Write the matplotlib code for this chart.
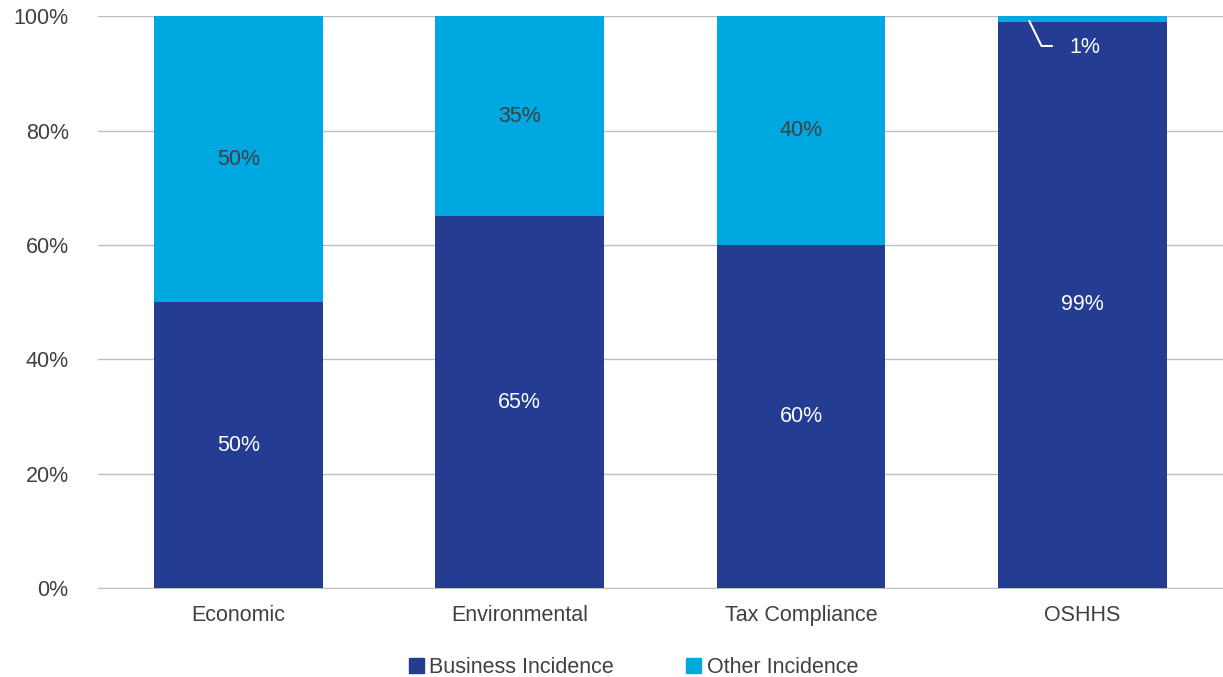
import numpy as np
import matplotlib.pyplot as plt
from matplotlib.patches import Patch

plt.rcParams['font.family'] = ['Liberation Sans', 'DejaVu Sans']

categories = ["Economic", "Environmental", "Tax Compliance", "OSHHS"]
business = [50, 65, 60, 99]
other = [50, 35, 40, 1]
yticks = [0, 20, 40, 60, 80, 100]

dark = "#253C93"
light = "#00A8E1"
txt = "#404040"
fs = 15.5

fig = plt.figure(figsize=(12.23, 6.77), dpi=100)
ax = fig.add_axes([0.0800, 0.1315, 0.9200, 0.8445])

x = np.arange(len(categories))
w = 0.6
ax.bar(x, business, w, color=dark, zorder=3)
ax.bar(x, other, w, bottom=business, color=light, zorder=3)

for i in range(len(categories)):
    ax.text(x[i], business[i] / 2, f"{business[i]}%", ha="center", va="center",
            color="white", fontsize=fs, zorder=4)
    if other[i] >= 5:
        ax.text(x[i], business[i] + other[i] / 2, f"{other[i]}%", ha="center",
                va="center", color=txt, fontsize=fs, zorder=4)
    else:
        # small segment: label sits inside the dark bar with a leader line
        top = business[i] + other[i] / 2
        ax.plot([x[i] - 0.19, x[i] - 0.145, x[i] - 0.105], [top - 0.2, top - 4.7, top - 4.7],
                color="white", lw=1.5, zorder=4, solid_capstyle="butt")
        ax.text(x[i] + 0.01, top - 4.9, f"{other[i]}%", ha="center", va="center",
                color="white", fontsize=fs, zorder=4)

ax.set_xlim(-0.5, len(categories) - 0.5)
ax.set_ylim(0, 100)
ax.set_xticks(x)
ax.set_xticklabels(categories, fontsize=fs, color=txt)
ax.set_yticks(yticks)
ax.set_yticklabels([f"{v}%" for v in yticks], fontsize=fs, color=txt)
ax.tick_params(length=0)
ax.tick_params(axis="x", pad=12)
ax.tick_params(axis="y", pad=21)
ax.grid(axis="y", color="#BFBFBF", lw=1, zorder=0)
for s in ["top", "right", "left"]:
    ax.spines[s].set_visible(False)
ax.spines["bottom"].set_color("#BFBFBF")

handles = [Patch(color=dark, label="Business Incidence"),
           Patch(color=light, label="Other Incidence")]
fig.legend(handles=handles, loc="lower center", bbox_to_anchor=(0.518, -0.03), ncol=2,
           frameon=False, fontsize=fs, handlelength=0.7, handleheight=0.7,
           handletextpad=0.25, columnspacing=3.35, labelcolor=txt)

fig.savefig("out.png", dpi=100)
